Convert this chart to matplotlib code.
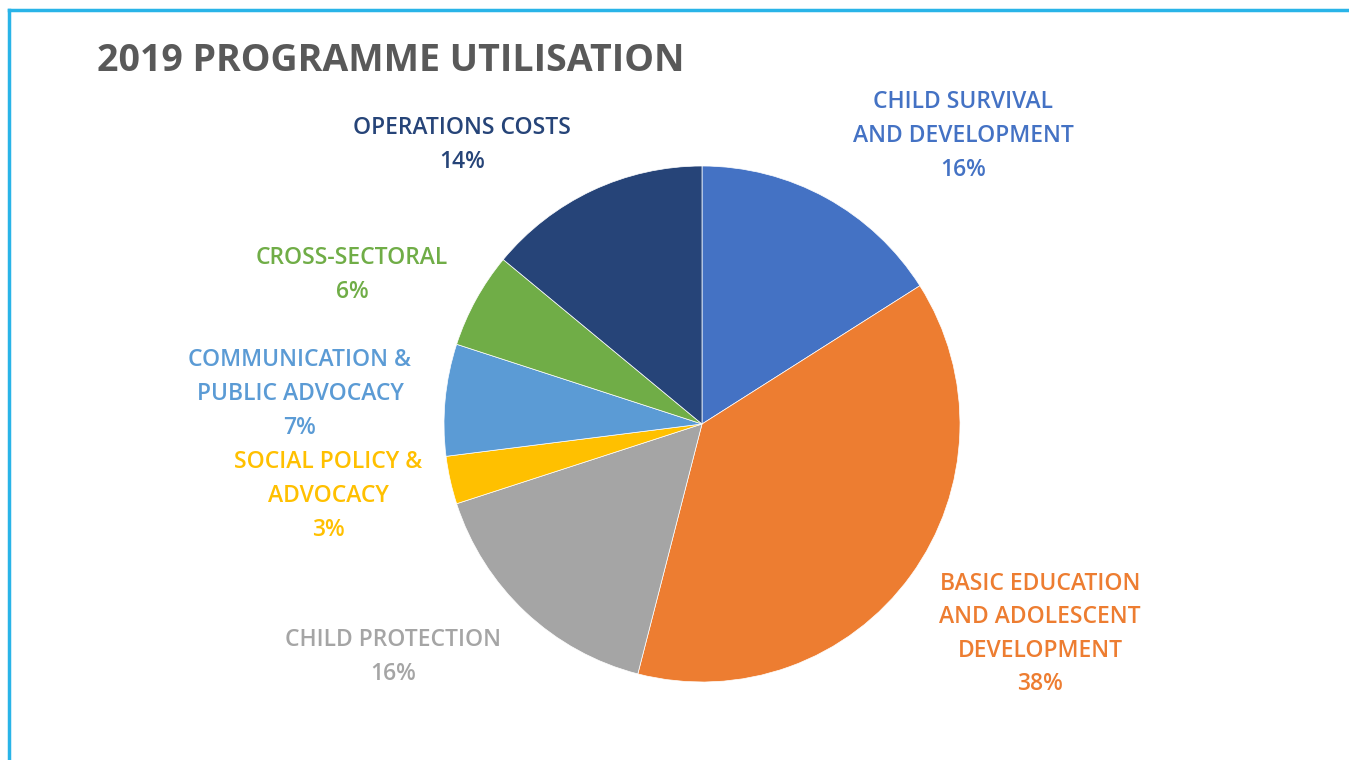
import matplotlib
matplotlib.use("Agg")
import matplotlib.pyplot as plt

categories = ["CHILD SURVIVAL\nAND DEVELOPMENT", "BASIC EDUCATION\nAND ADOLESCENT\nDEVELOPMENT",
              "CHILD PROTECTION", "SOCIAL POLICY &\nADVOCACY", "COMMUNICATION &\nPUBLIC ADVOCACY",
              "CROSS-SECTORAL", "OPERATIONS COSTS"]
values = [16, 38, 16, 3, 7, 6, 14]
colors = ["#4472C4", "#ED7D31", "#A5A5A5", "#FFC000", "#5B9BD5", "#70AD47", "#264478"]
# label centre positions (pixels in a 1349x760 canvas)
label_pos = [(963, 136), (1040, 634), (393, 657), (328, 496), (300, 394), (352, 275), (462, 145)]

W, H = 1349, 760
fig = plt.figure(figsize=(W / 100, H / 100), dpi=100)
fig.patch.set_facecolor("white")

cx, cy, r = 702, 424, 258
ax = fig.add_axes([(cx - r) / W, (H - cy - r) / H, 2 * r / W, 2 * r / H])
ax.pie(values, colors=colors, startangle=90, counterclock=False, radius=1,
       wedgeprops=dict(edgecolor="white", linewidth=0.5))
ax.set_xlim(-1, 1)
ax.set_ylim(-1, 1)
ax.axis("off")

font = ["Open Sans", "DejaVu Sans"]
for cat, val, col, (px, py) in zip(categories, values, colors, label_pos):
    fig.text(px / W, 1 - py / H, f"{cat}\n{val}%", color=col, ha="center", va="center",
             fontsize=16.5, fontweight="semibold", family=font, linespacing=1.53)

fig.text(97 / W, 1 - 61 / H, "2019 PROGRAMME UTILISATION", color="#595959", ha="left",
         va="center", fontsize=27, fontweight="bold", family=font)

# frame lines (top and left)
fig.add_artist(plt.Line2D([9 / W, 1], [1 - 10 / H, 1 - 10 / H], color="#29B4E8", lw=2.5,
                          transform=fig.transFigure))
fig.add_artist(plt.Line2D([9 / W, 9 / W], [0, 1 - 10 / H], color="#29B4E8", lw=2.5,
                          transform=fig.transFigure))

fig.savefig("out.png", dpi=100)
